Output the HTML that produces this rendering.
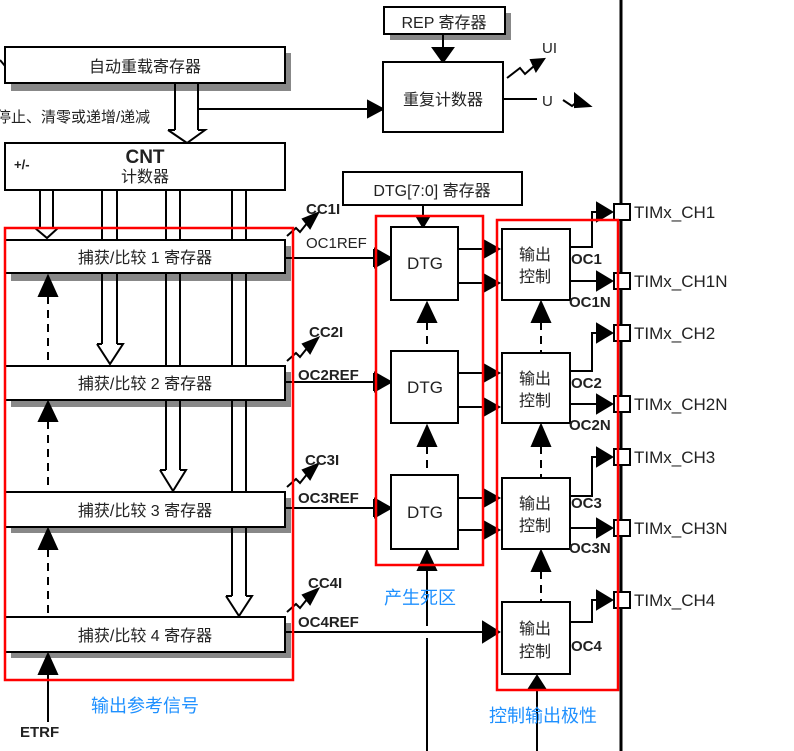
<!DOCTYPE html>
<html><head><meta charset="utf-8"><style>
html,body{margin:0;padding:0;background:#fff;}
svg{display:block;}
text{font-family:"Liberation Sans","Noto Sans CJK SC",sans-serif;}
</style></head><body>
<svg width="794" height="751" viewBox="0 0 794 751" xmlns="http://www.w3.org/2000/svg">
<g stroke="#000" stroke-width="2" fill="none">
<g fill="#888" stroke="none">
<rect x="11" y="53" width="280" height="38"/>
<rect x="390" y="13" width="121" height="27"/>
<rect x="11" y="246" width="280" height="35"/>
<rect x="11" y="372" width="280" height="35"/>
<rect x="11" y="498" width="280" height="35"/>
<rect x="11" y="623" width="280" height="35"/>
</g>
<rect x="5" y="47" width="280" height="36" fill="#fff"/>
<path d="M0,60 L5,66" />
<line x1="175" y1="83" x2="175" y2="130"/>
<line x1="198" y1="83" x2="198" y2="130"/>
<path d="M168,130 L175,130 M198,130 L205,130 L187,143 L168,130" />
<line x1="198" y1="109" x2="370" y2="109"/>
<polygon points="368,101 383,109 368,117" fill="#000"/>
<rect x="384" y="7" width="121" height="27" fill="#fff"/>
<line x1="443" y1="34" x2="443" y2="48"/>
<polygon points="433,48 453,48 443,62" fill="#000"/>
<rect x="383" y="62" width="120" height="70" fill="#fff"/>
<path d="M507,78 L520,68 L525,74 L534,66"/>
<polygon points="531,60 544,59 536,71" fill="#000"/>
<line x1="503" y1="99" x2="537" y2="99"/>
<path d="M563,100 L572,106 L578,101"/>
<polygon points="575,94 590,106 575,107" fill="#000"/>
<rect x="5" y="143" width="280" height="47" fill="#fff"/>
<line x1="40" y1="190" x2="40" y2="228"/><line x1="53" y1="190" x2="53" y2="228"/>
<path d="M35,228 L40,228 M53,228 L58,228 L47,238 L35,228"/>
<line x1="102" y1="190" x2="102" y2="240"/><line x1="117" y1="190" x2="117" y2="240"/>
<line x1="102" y1="273" x2="102" y2="344"/><line x1="117" y1="273" x2="117" y2="344"/>
<path d="M97,344 L102,344 M117,344 L123,344 L110,364 L97,344"/>
<line x1="166" y1="190" x2="166" y2="240"/><line x1="180" y1="190" x2="180" y2="240"/>
<line x1="166" y1="273" x2="166" y2="366"/><line x1="180" y1="273" x2="180" y2="366"/>
<line x1="166" y1="400" x2="166" y2="470"/><line x1="180" y1="400" x2="180" y2="470"/>
<path d="M160,470 L166,470 M180,470 L186,470 L173,491 L160,470"/>
<line x1="232" y1="190" x2="232" y2="240"/><line x1="246" y1="190" x2="246" y2="240"/>
<line x1="232" y1="273" x2="232" y2="366"/><line x1="246" y1="273" x2="246" y2="366"/>
<line x1="232" y1="400" x2="232" y2="492"/><line x1="246" y1="400" x2="246" y2="492"/>
<line x1="232" y1="527" x2="232" y2="596"/><line x1="246" y1="527" x2="246" y2="596"/>
<path d="M226,596 L232,596 M246,596 L252,596 L239,616 L226,596"/>
<rect x="5" y="240" width="280" height="33" fill="#fff"/>
<rect x="5" y="366" width="280" height="34" fill="#fff"/>
<rect x="5" y="492" width="280" height="35" fill="#fff"/>
<rect x="5" y="617" width="280" height="35" fill="#fff"/>
<g fill="#000">
<polygon points="39,296 57,296 48,276"/>
<polygon points="39,421 57,421 48,402"/>
<polygon points="39,549 57,549 48,529"/>
<polygon points="39,674 57,674 48,654"/>
</g>
<g stroke-dasharray="8,6">
<line x1="48" y1="296" x2="48" y2="365"/>
<line x1="48" y1="421" x2="48" y2="491"/>
<line x1="48" y1="549" x2="48" y2="616"/>
</g>
<line x1="48" y1="674" x2="48" y2="722"/>
<path d="M287,236 L296,228 L300,232 L308,222"/><polygon points="303,219 318,213 310,228" fill="#000"/>
<path d="M287,361 L296,353 L300,357 L308,347"/><polygon points="303,344 318,338 310,353" fill="#000"/>
<path d="M287,487 L296,479 L300,483 L308,473"/><polygon points="303,470 318,464 310,479" fill="#000"/>
<path d="M287,612 L296,604 L300,608 L308,598"/><polygon points="303,595 318,589 310,604" fill="#000"/>
<line x1="285" y1="258" x2="378" y2="258"/>
<line x1="285" y1="382" x2="378" y2="382"/>
<line x1="285" y1="508" x2="378" y2="508"/>
<line x1="285" y1="632" x2="486" y2="632"/>
<g fill="#000">
<polygon points="375,249 391,258 375,267"/><line x1="374" y1="249" x2="374" y2="267"/>
<polygon points="375,373 391,382 375,391"/><line x1="374" y1="373" x2="374" y2="391"/>
<polygon points="375,499 391,508 375,517"/><line x1="374" y1="499" x2="374" y2="517"/>
<polygon points="483,622 499,632 483,642"/>
</g>
<rect x="343" y="172" width="179" height="33" fill="#fff"/>
<line x1="423" y1="205" x2="423" y2="217"/>
<polygon points="417,217 429,217 423,227" fill="#000"/>
<rect x="391" y="227" width="67" height="73" fill="#fff"/>
<rect x="391" y="351" width="67" height="72" fill="#fff"/>
<rect x="391" y="475" width="67" height="74" fill="#fff"/>
<g fill="#000">
<polygon points="418,322 436,322 427,303"/>
<polygon points="418,446 436,446 427,426"/>
<polygon points="418,570 436,570 427,551"/>
</g>
<g stroke-dasharray="8,6">
<line x1="427" y1="322" x2="427" y2="350"/>
<line x1="427" y1="446" x2="427" y2="474"/>
</g>
<line x1="427" y1="570" x2="427" y2="626"/>
<line x1="427" y1="638" x2="427" y2="751"/>
<g>
<line x1="458" y1="249" x2="485" y2="249"/><line x1="458" y1="283" x2="485" y2="283"/>
<line x1="458" y1="373" x2="485" y2="373"/><line x1="458" y1="407" x2="485" y2="407"/>
<line x1="458" y1="498" x2="485" y2="498"/><line x1="458" y1="530" x2="485" y2="530"/>
</g>
<g fill="#000">
<polygon points="483,240 499,249 483,258"/><polygon points="483,274 499,283 483,292"/>
<polygon points="483,364 499,373 483,382"/><polygon points="483,398 499,407 483,416"/>
<polygon points="483,489 499,498 483,507"/><polygon points="483,521 499,530 483,539"/>
</g>
<rect x="502" y="229" width="68" height="71" fill="#fff"/>
<rect x="502" y="353" width="68" height="70" fill="#fff"/>
<rect x="502" y="478" width="68" height="71" fill="#fff"/>
<rect x="502" y="602" width="68" height="72" fill="#fff"/>
<g fill="#000">
<polygon points="532,322 550,322 541,302"/>
<polygon points="532,446 550,446 541,425"/>
<polygon points="532,571 550,571 541,551"/>
<polygon points="528,690 546,690 537,676"/>
</g>
<g stroke-dasharray="8,6">
<line x1="541" y1="322" x2="541" y2="352"/>
<line x1="541" y1="446" x2="541" y2="477"/>
<line x1="541" y1="571" x2="541" y2="601"/>
</g>
<line x1="537" y1="690" x2="537" y2="751"/>
<path d="M570,247 L592,247 L592,212 L600,212"/>
<path d="M570,371 L592,371 L592,333 L600,333"/>
<path d="M570,496 L592,496 L592,457 L600,457"/>
<path d="M570,622 L592,622 L592,600 L600,600"/>
<line x1="570" y1="281" x2="600" y2="281"/>
<line x1="570" y1="404" x2="600" y2="404"/>
<line x1="570" y1="528" x2="600" y2="528"/>
<g fill="#000">
<polygon points="597,203 612,212 597,221"/>
<polygon points="597,324 612,333 597,342"/>
<polygon points="597,448 612,457 597,466"/>
<polygon points="597,591 612,600 597,609"/>
<polygon points="597,272 612,281 597,290"/>
<polygon points="597,395 612,404 597,413"/>
<polygon points="597,519 612,528 597,537"/>
</g>
<line x1="621" y1="0" x2="621" y2="751" stroke-width="3"/>
<g fill="#fff">
<rect x="614" y="204" width="16" height="16"/>
<rect x="614" y="273" width="16" height="16"/>
<rect x="614" y="325" width="16" height="16"/>
<rect x="614" y="396" width="16" height="16"/>
<rect x="614" y="449" width="16" height="16"/>
<rect x="614" y="520" width="16" height="16"/>
<rect x="614" y="592" width="16" height="16"/>
</g>
</g>
<g stroke="#f00" stroke-width="2.5" fill="none">
<rect x="5" y="228" width="288" height="452"/>
<rect x="376" y="216" width="107" height="349"/>
<rect x="497" y="220" width="121" height="470"/>
</g>
<g fill="#222" font-size="16" text-anchor="middle">
<text x="145" y="72">自动重载寄存器</text>
<text x="444" y="28">REP 寄存器</text>
<text x="443" y="105">重复计数器</text>
<text x="145" y="163" font-weight="bold" font-size="19">CNT</text>
<text x="145" y="182">计数器</text>
<text x="432" y="196">DTG[7:0] 寄存器</text>
<text x="145" y="263">捕获/比较 1 寄存器</text>
<text x="145" y="389">捕获/比较 2 寄存器</text>
<text x="145" y="516">捕获/比较 3 寄存器</text>
<text x="145" y="641">捕获/比较 4 寄存器</text>
<text x="425" y="269" font-size="17">DTG</text>
<text x="425" y="393" font-size="17">DTG</text>
<text x="425" y="518" font-size="17">DTG</text>
<text x="535" y="260">输出</text><text x="535" y="282">控制</text>
<text x="535" y="384">输出</text><text x="535" y="406">控制</text>
<text x="535" y="509">输出</text><text x="535" y="531">控制</text>
<text x="535" y="634">输出</text><text x="535" y="657">控制</text>
</g>
<g fill="#222" font-size="15">
<text x="-4" y="122">停止、清零或递增/递减</text>
<text x="14" y="169" font-weight="bold" font-size="13">+/-</text>
<text x="542" y="53">UI</text>
<text x="542" y="106">U</text>
<text x="306" y="248">OC1REF</text>
<text x="306" y="214" font-weight="bold">CC1I</text>
<text x="309" y="337" font-weight="bold">CC2I</text>
<text x="298" y="380" font-weight="bold">OC2REF</text>
<text x="305" y="465" font-weight="bold">CC3I</text>
<text x="298" y="503" font-weight="bold">OC3REF</text>
<text x="308" y="588" font-weight="bold">CC4I</text>
<text x="298" y="627" font-weight="bold">OC4REF</text>
<text x="571" y="264" font-weight="bold">OC1</text>
<text x="569" y="307" font-weight="bold">OC1N</text>
<text x="571" y="388" font-weight="bold">OC2</text>
<text x="569" y="430" font-weight="bold">OC2N</text>
<text x="571" y="508" font-weight="bold">OC3</text>
<text x="569" y="553" font-weight="bold">OC3N</text>
<text x="571" y="651" font-weight="bold">OC4</text>
<text x="20" y="737" font-weight="bold">ETRF</text>
</g>
<g fill="#222" font-size="17">
<text x="634" y="218">TIMx_CH1</text>
<text x="634" y="287">TIMx_CH1N</text>
<text x="634" y="339">TIMx_CH2</text>
<text x="634" y="410">TIMx_CH2N</text>
<text x="634" y="463">TIMx_CH3</text>
<text x="634" y="534">TIMx_CH3N</text>
<text x="634" y="606">TIMx_CH4</text>
</g>
<g fill="#1e90ff" font-size="18">
<text x="384" y="604">产生死区</text>
<text x="91" y="712">输出参考信号</text>
<text x="489" y="722">控制输出极性</text>
</g>
</svg>
</body></html>
